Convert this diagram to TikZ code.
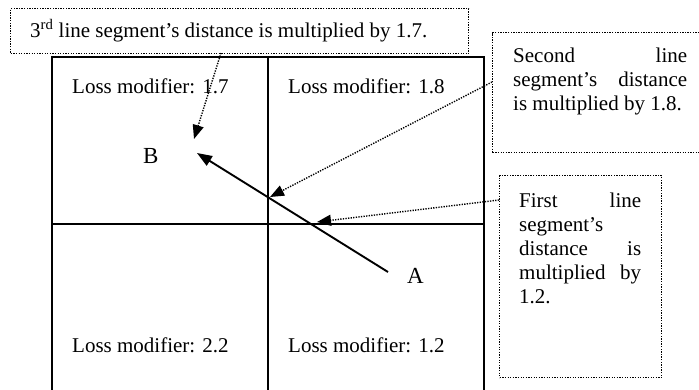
\documentclass[tikz,border=0pt]{standalone}
\usepackage{fontspec}
\setmainfont{Liberation Serif}
\usetikzlibrary{arrows.meta}
\hyphenpenalty=10000
\tolerance=10000
\begin{document}
\begin{tikzpicture}[x=1pt,y=-1pt,
  gridline/.style={line width=1.9pt},
  dotbox/.style={draw, line width=1.4pt, dash pattern=on 1.3pt off 1.3pt, rectangle, inner sep=0pt, anchor=north west},
  note/.style={font=\fontsize{21}{24}\selectfont, inner sep=0pt, align=justify, anchor=base west},
  loss/.style={font=\fontsize{21}{24}\selectfont, inner sep=0pt, anchor=base west},
  ptlabel/.style={font=\fontsize{23}{26}\selectfont, inner sep=0pt, anchor=base west},
  dotarrow/.style={line width=1.4pt, dash pattern=on 1.3pt off 1.3pt, -{Triangle[length=14pt,width=11pt]}},
  solidarrow/.style={line width=1.9pt, -{Triangle[length=15pt,width=11pt]}}]
\useasboundingbox (0,0) rectangle (699,389);
\clip (0,0) rectangle (699,389);
% grid
\draw[gridline] (52,400) -- (52,57) -- (484,57) -- (484,400);
\draw[gridline] (268,57) -- (268,400);
\draw[gridline] (52,224) -- (484,224);
% cell labels
\node[loss] (l17) at (72,93) {Loss modifier: 1.7};
\node[loss] (l18) at (288,93) {Loss modifier: 1.8};
\node[loss] (l22) at (72,352) {Loss modifier: 2.2};
\node[loss] (l12) at (288,352) {Loss modifier: 1.2};
% note boxes
\node[dotbox, minimum width=458pt, minimum height=45pt] (box3) at (10,8) {};
\node[loss] (t3) at (30,37) {3\textsuperscript{rd} line segment’s distance is multiplied by 1.7.};
\node[dotbox, minimum width=220pt, minimum height=120pt] (box2) at (492,32) {};
\node[note, text width=174pt] (t2) at (513,62) {Second line segment’s distance is multiplied by 1.8.};
\node[dotbox, minimum width=162pt, minimum height=202pt] (box1) at (499,175) {};
\node[note, text width=122pt] (t1) at (519,207) {First line segment’s distance is multiplied by 1.2.};
% points
\node[ptlabel] (A) at (407,283) {A};
\node[ptlabel] (B) at (143,163) {B};
\coordinate (aEnd) at (388,272);
\coordinate (bTip) at (197,153);
\draw[solidarrow] (aEnd) -- (bTip);
% dotted pointers
\coordinate (s3) at (221,53);
\coordinate (p3) at (194,139);
\coordinate (s2) at (492,82);
\coordinate (p2) at (270,197);
\coordinate (s1) at (499,200);
\coordinate (p1) at (317,222);
\draw[dotarrow] (s3) -- (p3);
\draw[dotarrow] (s2) -- (p2);
\draw[dotarrow] (s1) -- (p1);
\end{tikzpicture}
\end{document}
